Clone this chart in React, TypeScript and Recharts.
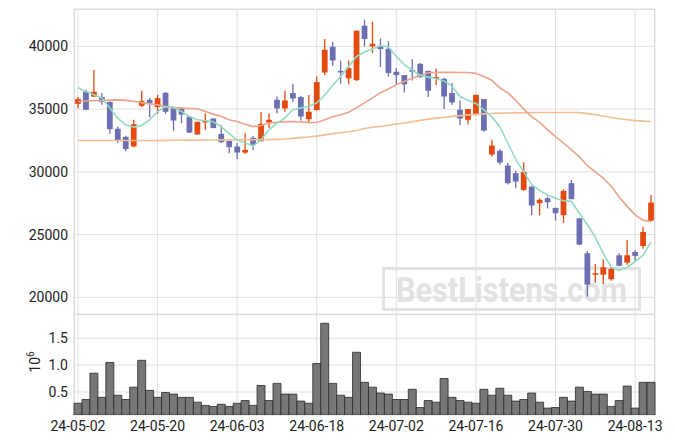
import React from 'react';
import { ComposedChart, Bar, Line, XAxis, YAxis, CartesianGrid } from 'recharts';

const DATES = [
  '24-05-02', '24-05-03', '24-05-07', '24-05-08', '24-05-09', '24-05-10', '24-05-13', '24-05-14', '24-05-16', '24-05-17',
  '24-05-20', '24-05-21', '24-05-22', '24-05-23', '24-05-24', '24-05-27', '24-05-28', '24-05-29', '24-05-30', '24-05-31',
  '24-06-03', '24-06-04', '24-06-05', '24-06-07', '24-06-10', '24-06-11', '24-06-12', '24-06-13', '24-06-14', '24-06-17',
  '24-06-18', '24-06-19', '24-06-20', '24-06-21', '24-06-24', '24-06-25', '24-06-26', '24-06-27', '24-06-28', '24-07-01',
  '24-07-02', '24-07-03', '24-07-04', '24-07-05', '24-07-08', '24-07-09', '24-07-10', '24-07-11', '24-07-12', '24-07-15',
  '24-07-16', '24-07-17', '24-07-18', '24-07-19', '24-07-22', '24-07-23', '24-07-24', '24-07-25', '24-07-26', '24-07-29',
  '24-07-30', '24-07-31', '24-08-01', '24-08-02', '24-08-05', '24-08-06', '24-08-07', '24-08-08', '24-08-09', '24-08-12',
  '24-08-13', '24-08-14', '24-08-16',
];

const OPEN = [
  35420, 36400, 36000, 35960, 35580, 33430, 32790, 32020, 35260, 35740,
  35160, 36300, 35080, 35080, 34390, 32980, 33940, 34250, 33030, 32470,
  32020, 31540, 32710, 32450, 33930, 35740, 35050, 36280, 35960, 34200,
  34920, 37920, 39970, 38050, 37450, 37310, 41650, 40000, 40050, 39810,
  37980, 37710, 38130, 38610, 38050, 37420, 37420, 36280, 34950, 34150,
  34570, 35800, 31380, 31680, 30500, 29900, 28560, 28830, 27500, 27900,
  27130, 26540, 29100, 26300, 23510, 21800, 21800, 21440, 23350, 22760,
  23610, 24090, 26110,
];
const HIGH = [
  35960, 36540, 38110, 36280, 35600, 33610, 32870, 34150, 36460, 35880,
  36120, 36360, 35210, 35160, 34390, 34000, 34680, 34300, 33720, 32470,
  32290, 33090, 32870, 34760, 34680, 36010, 36490, 37020, 36060, 36120,
  37600, 40590, 40350, 38850, 38880, 41250, 42120, 41970, 40630, 40400,
  38270, 37710, 38990, 38680, 38050, 38240, 37500, 37080, 35690, 35000,
  36140, 35800, 32550, 31810, 30700, 30100, 30770, 28830, 27900, 28030,
  27130, 28620, 29360, 26300, 23700, 22660, 23030, 22440, 23510, 24570,
  23780, 25630, 28160,
];
const LOW = [
  35050, 34940, 35960, 35340, 33030, 32290, 31650, 31970, 35160, 34360,
  34630, 34630, 33250, 33880, 33100, 32980, 33350, 33470, 32290, 31490,
  31010, 31430, 31750, 32390, 33490, 34680, 34790, 35580, 34090, 33880,
  34890, 37710, 38460, 37020, 36970, 37250, 40000, 39470, 38350, 37600,
  36940, 36330, 37280, 37500, 35960, 36920, 35000, 35340, 33720, 33770,
  34500, 33190, 31220, 30560, 29000, 28700, 28500, 26540, 26540, 27070,
  26110, 25950, 27820, 24150, 20050, 21170, 21060, 21330, 22450, 22600,
  22920, 23880, 26060,
];
const CLOSE = [
  35800, 34940, 36380, 35580, 33400, 32500, 31810, 33800, 35660, 35450,
  35880, 34790, 34090, 34570, 33130, 33990, 34070, 33490, 32370, 31970,
  31540, 31750, 32130, 33830, 34150, 35050, 35690, 35850, 34410, 34790,
  37150, 39730, 38880, 37920, 38270, 41250, 40590, 40210, 39790, 37870,
  37710, 36970, 37980, 37550, 36460, 37550, 36010, 35530, 34250, 35000,
  36140, 33290, 32100, 30740, 29100, 29220, 30000, 27310, 27770, 27580,
  26700, 28480, 27820, 24200, 21010, 21920, 22390, 22260, 22520, 23350,
  23300, 25210, 27550,
];

// volume in millions (axis label 10^6)
const VOLUME = [
  0.29, 0.36, 0.85, 0.40, 1.05, 0.44, 0.36, 0.59, 1.09, 0.53,
  0.40, 0.49, 0.46, 0.40, 0.40, 0.31, 0.25, 0.23, 0.27, 0.23,
  0.29, 0.34, 0.25, 0.62, 0.34, 0.66, 0.46, 0.46, 0.33, 0.29,
  1.03, 1.78, 0.66, 0.44, 0.40, 1.24, 0.68, 0.59, 0.48, 0.46,
  0.36, 0.36, 0.55, 0.21, 0.34, 0.31, 0.75, 0.40, 0.34, 0.31,
  0.29, 0.55, 0.44, 0.57, 0.44, 0.33, 0.36, 0.48, 0.31, 0.20,
  0.21, 0.40, 0.33, 0.59, 0.51, 0.46, 0.46, 0.23, 0.34, 0.61,
  0.20, 0.68, 0.68,
];

const MA5 = [
  36700, 36400, 36150, 35880, 35080, 34280, 33750, 33565, 33700, 34150,
  34810, 35210, 35130, 34810, 34410, 34150, 34070, 33990, 33610, 33050,
  32550, 32290, 32075, 32550, 33350, 33880, 34300, 34945, 35100, 35210,
  35500, 36100, 36900, 37600, 38400, 39200, 39550, 39800, 40050, 39950,
  39200, 38550, 38100, 37700, 37550, 37420, 37250, 36810, 36000, 35700,
  35450, 34945, 34400, 33600, 32300, 31000, 30000, 29000, 28500, 28150,
  27900, 27700, 27650, 26700, 25800, 24800, 23500, 22400, 22150, 22400,
  22850, 23350, 24400,
];
const MA20 = [
  35610, 35650, 35680, 35690, 35720, 35740, 35700, 35630, 35520, 35420,
  35340, 35200, 35120, 35080, 35050, 35025, 34820, 34600, 34420, 34160,
  34010, 33800, 33610, 33700, 33880, 33950, 34000, 34010, 33970, 33940,
  33930, 34150, 34400, 34550, 34750, 35100, 35500, 35900, 36300, 36600,
  36940, 37200, 37470, 37700, 37900, 37920, 37930, 37930, 37920, 37920,
  37850, 37600, 37300, 36700, 36300, 35700, 35000, 34400, 33950, 33350,
  32800, 32300, 31750, 31200, 30500, 30000, 29500, 28850, 28000, 27250,
  26570, 26150, 26030,
];
const MA60 = [
  32500, 32500, 32500, 32500, 32500, 32500, 32500, 32500, 32500, 32500,
  32500, 32510, 32515, 32520, 32525, 32530, 32535, 32540, 32545, 32550,
  32555, 32560, 32560, 32565, 32570, 32590, 32620, 32680, 32730, 32780,
  32850, 32950, 33050, 33120, 33200, 33300, 33450, 33560, 33620, 33720,
  33820, 33890, 34000, 34100, 34200, 34280, 34350, 34420, 34480, 34540,
  34580, 34620, 34650, 34680, 34690, 34700, 34710, 34720, 34725, 34730,
  34730, 34730, 34730, 34720, 34640, 34550, 34450, 34330, 34230, 34150,
  34080, 34040, 34010,
];

const PRICE_TICKS = [20000, 25000, 30000, 35000, 40000];
const VOLUME_TICKS = [0.5, 1.0, 1.5];

const UP = '#e4490f';
const DOWN = '#6c70b2';
const GRID = '#e0e0e0';
const TICK = { fill: '#222', fontSize: 14, fontFamily: 'Roboto, sans-serif' };

const Candle = (props: any) => {
  const { x, y, width, height, payload } = props;
  const { open, close, high, low } = payload;
  const color = close >= open ? UP : DOWN;
  const top = Math.min(y, y + height);
  const h = Math.abs(height);
  const k = h / (high - low || 1);
  const bodyTop = top + (high - Math.max(open, close)) * k;
  const bodyH = Math.max(Math.abs(close - open) * k, 1.5);
  const cx = x + width / 2;
  const bw = width * 0.72;
  return (
    <g>
      <line x1={cx} x2={cx} y1={top} y2={top + h} stroke={color} strokeWidth={1.3} />
      <rect x={cx - bw / 2} y={bodyTop} width={bw} height={bodyH} fill={color} />
    </g>
  );
};

const App: React.FC = () => {
  const data = DATES.map((date, i) => ({
    date,
    open: OPEN[i],
    high: HIGH[i],
    low: LOW[i],
    close: CLOSE[i],
    vol: VOLUME[i],
    ma5: MA5[i],
    ma20: MA20[i],
    ma60: MA60[i],
  }));

  return (
    <div style={{ position: 'absolute', left: 0, top: 0, width: 675, height: 444, background: '#fff', fontFamily: 'Roboto, sans-serif' }}>
      <svg width={675} height={444} style={{ position: 'absolute', left: 0, top: 0 }}>
        <rect x={74.5} y={9.5} width={580} height={405} fill="none" stroke="#d6d6d6" />
        <line x1={74} x2={655} y1={314.5} y2={314.5} stroke="#d6d6d6" />
        <rect x={383.5} y={268.5} width={256} height={41} fill="none" stroke="#e2e2e2" strokeWidth={3} />
        <text x={396} y={302} fontSize={35} fontWeight="bold" fill="#e2e2e2" fontFamily="Roboto, sans-serif"
          textLength={231} lengthAdjust="spacingAndGlyphs">BestListens.com</text>
      </svg>

      <div style={{ position: 'absolute', left: 0, top: 0 }}>
        <ComposedChart width={675} height={314} data={data} barCategoryGap={0}
          margin={{ top: 9, right: 20, bottom: 0, left: 0 }}>
          <CartesianGrid stroke={GRID} />
          <XAxis dataKey="date" hide interval={9} />
          <YAxis domain={[18670, 42980]} ticks={PRICE_TICKS} allowDataOverflow width={74}
            axisLine={false} tickLine={false} tickMargin={0} tick={TICK} />
          <Bar dataKey={(d: any) => [d.low, d.high]} shape={Candle} isAnimationActive={false} />
          <Line dataKey="ma60" type="linear" stroke="#f1bd92" strokeWidth={1.6} dot={false} isAnimationActive={false} />
          <Line dataKey="ma20" type="linear" stroke="#eba38a" strokeWidth={1.6} dot={false} isAnimationActive={false} />
          <Line dataKey="ma5" type="linear" stroke="#92dbbf" strokeWidth={1.6} dot={false} isAnimationActive={false} />
        </ComposedChart>
      </div>

      <div style={{ position: 'absolute', left: 0, top: 314 }}>
        <ComposedChart width={675} height={130} data={data} barCategoryGap={0}
          margin={{ top: 0, right: 20, bottom: 0, left: 0 }}>
          <CartesianGrid stroke={GRID} />
          <XAxis dataKey="date" interval={9} height={29} axisLine={false} tickLine={false} tickMargin={0} tick={TICK} />
          <YAxis domain={[0.071, 1.953]} ticks={VOLUME_TICKS} allowDataOverflow width={74}
            axisLine={false} tickLine={false} tickMargin={0} tick={TICK}
            tickFormatter={(v: number) => v.toFixed(1)} />
          <Bar dataKey="vol" fill="#777777" stroke="#2b2b2b" strokeWidth={0.8} isAnimationActive={false} />
        </ComposedChart>
      </div>

      <div style={{
        position: 'absolute', left: 34, top: 362, transform: 'translate(-50%, -50%) rotate(-90deg)',
        fontSize: 14, color: '#222', whiteSpace: 'nowrap', lineHeight: 1,
      }}>
        10<sup style={{ fontSize: 10 }}>6</sup>
      </div>
    </div>
  );
};

export default App;
